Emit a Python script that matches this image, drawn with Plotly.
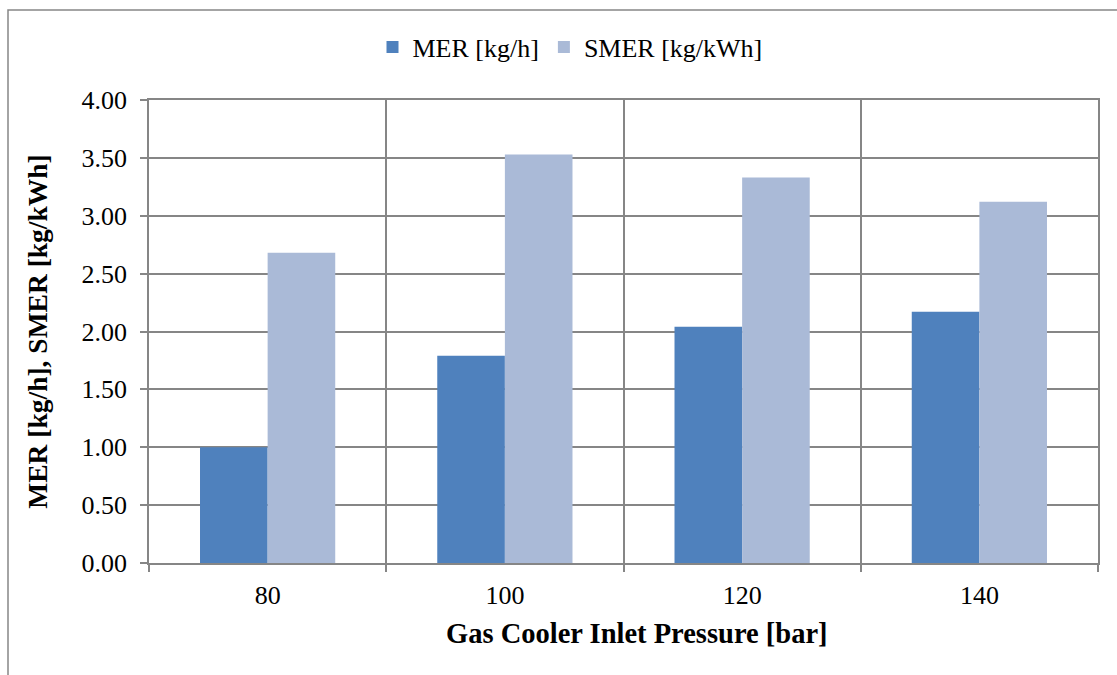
import plotly.graph_objects as go

# Gas cooler inlet pressure categories [bar]
pressures = ["80", "100", "120", "140"]
# Mass extraction rate [kg/h]
mer_values = [1.00, 1.79, 2.04, 2.17]
# Specific mass extraction rate [kg/kWh]
smer_values = [2.68, 3.53, 3.33, 3.12]
y_tick_values = [0.0, 0.5, 1.0, 1.5, 2.0, 2.5, 3.0, 3.5, 4.0]

GRID = "#868686"
FONT = "Liberation Serif, Times New Roman, serif"

W, H = 1117, 675
L, R, T, B = 149, 19, 100, 111.5
plot_w = W - L - R
plot_h = H - T - B


def px_to_paper_x(px):
    return (px - L) / plot_w


def px_to_paper_y(py):
    return (H - B - py) / plot_h


fig = go.Figure()
fig.add_trace(go.Bar(x=pressures, y=mer_values, name="MER [kg/h]",
                     marker=dict(color="#4F81BD", line=dict(width=0))))
fig.add_trace(go.Bar(x=pressures, y=smer_values, name="SMER [kg/kWh]",
                     marker=dict(color="#AABAD7", line=dict(width=0))))

fig.update_layout(
    width=W, height=H,
    margin=dict(l=L, r=R, t=T, b=B, pad=0),
    paper_bgcolor="white", plot_bgcolor="white",
    barmode="group", bargap=0.43, bargroupgap=0,
    font=dict(family=FONT, size=26, color="black"),
    legend=dict(orientation="h", x=px_to_paper_x(570), xanchor="center",
                y=px_to_paper_y(47), yanchor="middle",
                font=dict(family=FONT, size=26), itemwidth=30,
                traceorder="normal"),
    xaxis=dict(
        type="category", tickson="boundaries",
        showgrid=True, gridcolor=GRID, gridwidth=1.5,
        ticks="outside", ticklen=7, tickcolor=GRID, tickwidth=1.5,
        showline=True, linecolor=GRID, linewidth=1.5, mirror=True,
        ticklabelstandoff=8,
        tickfont=dict(family=FONT, size=26),
    ),
    yaxis=dict(
        range=[0, 4], tickvals=y_tick_values, tickformat=".2f",
        showgrid=True, gridcolor=GRID, gridwidth=1.5,
        ticks="outside", ticklen=7, tickcolor=GRID, tickwidth=1.5,
        showline=True, linecolor=GRID, linewidth=1.5, mirror=True,
        zeroline=False, ticklabelstandoff=8,
        tickfont=dict(family=FONT, size=26),
        title=dict(text="<b>MER [kg/h], SMER [kg/kWh]</b>",
                   font=dict(family=FONT, size=27.5), standoff=26),
    ),
    annotations=[dict(text="<b>Gas Cooler Inlet Pressure [bar]</b>",
                      xref="paper", yref="paper",
                      x=px_to_paper_x(637), y=px_to_paper_y(634),
                      xanchor="center", yanchor="middle", showarrow=False,
                      font=dict(family=FONT, size=28.5))],
    shapes=[dict(type="rect", xref="paper", yref="paper",
                 x0=px_to_paper_x(8), x1=px_to_paper_x(1125),
                 y0=px_to_paper_y(685), y1=px_to_paper_y(10),
                 line=dict(color=GRID, width=1.5), layer="below")],
)

fig.write_html("out.html")
